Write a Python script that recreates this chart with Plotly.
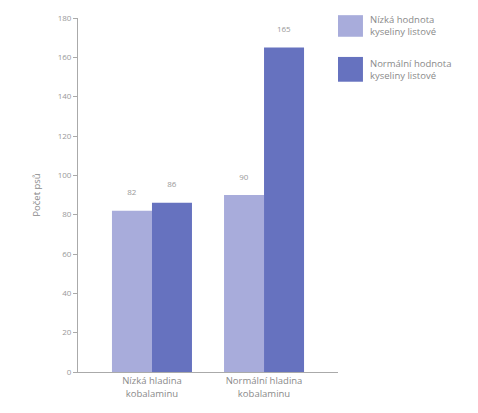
import plotly.graph_objects as go

categories = ["Nízká hladina<br>kobalaminu", "Normální hladina<br>kobalaminu"]
series_names = ["Nízká hodnota<br>kyseliny listové", "Normální hodnota<br>kyseliny listové"]
low_folate = [82, 90]
normal_folate = [86, 165]
colors = ["#a8acdb", "#6672bf"]

fig = go.Figure()
for name, vals, col in zip(series_names, [low_folate, normal_folate], colors):
    fig.add_trace(go.Bar(
        x=categories, y=vals, name=name, marker=dict(color=col, line=dict(width=0)),
        text=[str(v) + "<br> " for v in vals], textposition="outside",
        textfont=dict(size=8, color="#999999"), cliponaxis=False,
    ))

# custom legend (layout elements, paper coordinates)
leg_y = [(1.008, 0.947), (0.890, 0.820)]
for (y1, y0), name, col in zip(leg_y, series_names, colors):
    fig.add_shape(type="rect", xref="paper", yref="paper", x0=1.0, x1=1.096,
                  y0=y0, y1=y1, fillcolor=col, line=dict(width=0))
    fig.add_annotation(xref="paper", yref="paper", x=1.115, y=(y0 + y1) / 2,
                       text=name, showarrow=False, xanchor="left", yanchor="middle",
                       align="left", font=dict(size=9.5, color="#8a8a8a"))

fig.update_layout(
    width=478, height=413,
    margin=dict(l=78, r=140, t=16, b=41),
    paper_bgcolor="white", plot_bgcolor="white",
    barmode="group", bargap=0.286, bargroupgap=0,
    showlegend=False, hovermode=False,
    font=dict(family="Open Sans", color="#8a8a8a"),
    xaxis=dict(range=[-0.66, 1.66], showline=True, linecolor="#aaaaaa", linewidth=1,
               ticks="", tickfont=dict(size=9.5, color="#8a8a8a"), showgrid=False, zeroline=False),
    yaxis=dict(range=[0, 180], tick0=0, dtick=20, showline=True, linecolor="#aaaaaa",
               linewidth=1, ticks="outside", ticklen=4, tickcolor="#aaaaaa",
               tickfont=dict(size=8, color="#999999"), showgrid=False, zeroline=False,
               title=dict(text="Počet psů", font=dict(size=9.5, color="#8a8a8a"), standoff=15)),
)
fig.write_html("out.html", config={"displayModeBar": False, "staticPlot": True},
               post_script="document.body.style.margin='0';document.body.style.overflow='hidden';")
